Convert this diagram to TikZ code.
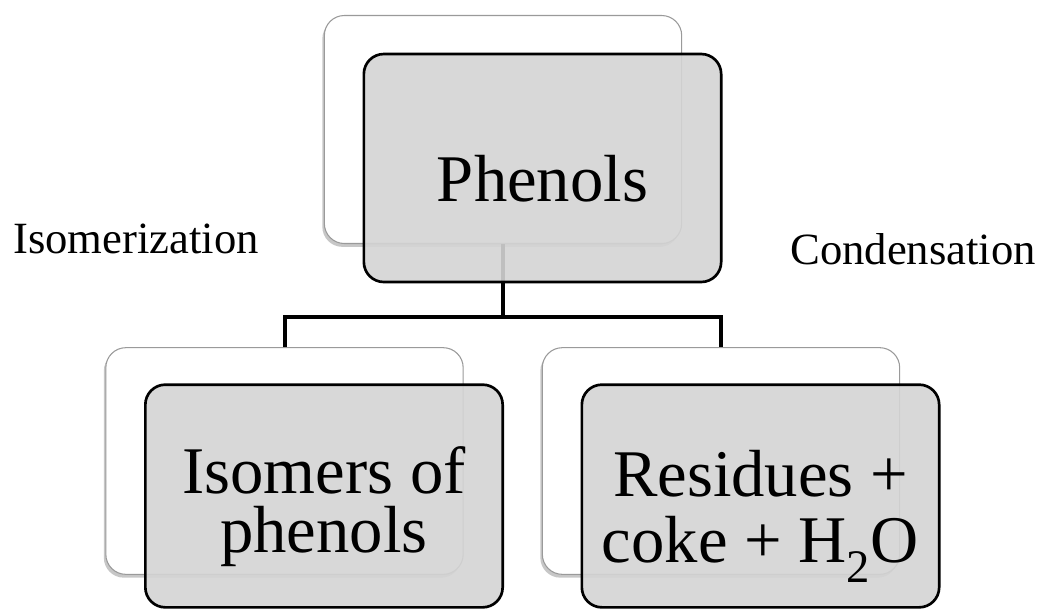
\documentclass[tikz,border=0pt]{standalone}
\usepackage{fontspec}
\setmainfont{Liberation Serif}
\usepackage{tikz}
\usetikzlibrary{positioning,shadows}
\definecolor{frontfill}{HTML}{D4D4D4}
\definecolor{backline}{HTML}{9A9A9A}
\newcommand{\toprule}[1]{\rule{0pt}{#1}}

\begin{document}
\begin{tikzpicture}[
  x=0.75pt,y=-0.75pt,
  backbox/.style={draw=backline,line width=0.8pt,fill=white,rounded corners=15pt,
    minimum width=268pt,minimum height=170pt,
    drop shadow={shadow xshift=-1.5pt,shadow yshift=-2.5pt,opacity=0.22,fill=black}},
  frontbox/.style={draw=black,line width=2pt,fill=frontfill,fill opacity=0.9,text opacity=1,
    rounded corners=15pt,minimum width=268pt,minimum height=167pt,align=center,
    font=\fontsize{50}{44}\selectfont},
  tag/.style={font=\fontsize{33.5}{40}\selectfont,inner sep=0pt,anchor=base west},
  link/.style={line width=3pt}
]
  \useasboundingbox (0,0) rectangle (1041,608);
  % back cards
  \node[backbox,minimum height=171pt] (phenback) at (503,129.5) {};
  \node[backbox] (isoback) at (284.5,461) {};
  \node[backbox] (resback) at (721,461) {};
  % tree lines
  \draw[link] (phenback.south) -- ++(0,73) coordinate (fork);
  \draw[link] (fork) -| (isoback.north);
  \draw[link] (fork) -| (resback.north);
  % front cards
  \node[frontbox,minimum height=171pt] (phen) at ([shift={(39.5,38.5)}]phenback.center) {\toprule{50pt}Phenols};
  \node[frontbox] (iso) at ([shift={(39.5,35)}]isoback.center) {\toprule{51pt}Isomers of\\phenols};
  \node[frontbox] (res) at ([shift={(39.5,35)}]resback.center) {\toprule{65pt}Residues +\\[6pt]coke + H\textsubscript{2}O};
  % reaction labels
  \node[tag] (isomlab) at (13,253) {Isomerization};
  \node[tag] (condlab) at (790,264) {Condensation};
\end{tikzpicture}
\end{document}
